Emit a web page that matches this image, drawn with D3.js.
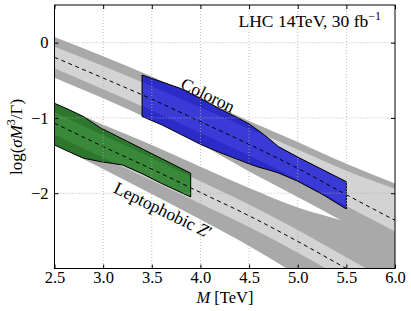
<!DOCTYPE html>
<html>
<head>
<meta charset="utf-8">
<script src="https://cdnjs.cloudflare.com/ajax/libs/d3/7.8.5/d3.min.js"></script>
<style>
  body { margin: 0; background: #fff; }
  svg text { font-family: "Liberation Serif", "DejaVu Serif", serif; fill: #000; }
</style>
</head>
<body>
<svg id="chart" width="411" height="311"></svg>
<script>
// mass grid for the grey uncertainty bands (TeV)
const massGrid = [2.5, 3.0, 3.5, 4.0, 4.5, 5.0, 5.5, 6.0];

// Coloron band
const coloronCentral  = [-0.195, -0.47, -0.75, -1.05, -1.35, -1.67, -2.02, -2.36];
const coloronDarkTop  = [0.075, -0.18, -0.45, -0.75, -1.04, -1.32, -1.61, -1.87];
const coloronLightTop = [-0.055, -0.31, -0.58, -0.86, -1.14, -1.42, -1.70, -1.94];
const coloronLightBot = [-0.34, -0.62, -0.90, -1.20, -1.50, -1.82, -2.17, -2.51];
const coloronDarkBot  = [-0.465, -0.74, -1.03, -1.35, -1.71, -2.05, -2.40, -2.76];

// Leptophobic Z' band
const leptoCentral  = [-1.07, -1.38, -1.68, -1.99, -2.30, -2.64, -3.00, -3.36];
const leptoDarkTop  = [-0.81, -1.09, -1.36, -1.65, -1.93, -2.19, -2.38, -2.61];
const leptoLightTop = [-0.92, -1.23, -1.53, -1.84, -2.15, -2.49, -2.85, -3.21];
const leptoLightBot = [-1.22, -1.53, -1.83, -2.14, -2.45, -2.79, -3.15, -3.51];
const leptoDarkBot  = [-1.35, -1.68, -2.01, -2.35, -2.70, -3.09, -3.50, -3.91];

// coloured reach regions
const coloronFitMass = [3.4, 3.6, 3.8, 4.0, 4.2, 4.4, 4.5, 4.6, 4.7, 4.8, 5.0, 5.26, 5.5];
const coloronFitTop  = [-0.43, -0.52, -0.61, -0.74, -0.88, -1.01, -1.08, -1.17, -1.27, -1.38, -1.52, -1.69, -1.847];
const coloronFitBot  = [-0.98, -1.09, -1.22, -1.35, -1.46, -1.56, -1.61, -1.655, -1.69, -1.73, -1.84, -2.02, -2.21];

const leptoFitMass = [2.5, 2.65, 2.8, 2.97, 3.2, 3.4, 3.6, 3.9];
const leptoFitTop  = [-0.806, -0.89, -0.984, -1.13, -1.28, -1.41, -1.54, -1.735];
const leptoFitBot  = [-1.36, -1.45, -1.535, -1.58, -1.625, -1.74, -1.87, -2.05];

// ticks
const xTicks = [2.5, 3.0, 3.5, 4.0, 4.5, 5.0, 5.5, 6.0];
const yTicks = [-2, -1, 0];

const svg = d3.select('#chart');
const plotLeft = 54.5, plotRight = 395, plotTop = 5, plotBottom = 268.5;

const xScale = d3.scaleLinear().domain([2.5, 6.0]).range([plotLeft, plotRight]);
const yScale = d3.scaleLinear().domain([-3, 0.5]).range([plotBottom, plotTop]);

svg.append('clipPath').attr('id', 'plotClip')
    .append('rect')
    .attr('x', plotLeft).attr('y', plotTop)
    .attr('width', plotRight - plotLeft).attr('height', plotBottom - plotTop);

const plot = svg.append('g').attr('clip-path', 'url(#plotClip)');

// helpers
const band = (lo, hi) => d3.area()
    .x((d, i) => xScale(massGrid[i]))
    .y0((d, i) => yScale(lo[i]))
    .y1((d, i) => yScale(hi[i]))
    .curve(d3.curveMonotoneX)(massGrid);

const region = (mass, hi, lo) => d3.area()
    .x((d, i) => xScale(mass[i]))
    .y0((d, i) => yScale(lo[i]))
    .y1((d, i) => yScale(hi[i]))(mass);

// grey bands
plot.append('path').attr('d', band(coloronDarkBot, coloronDarkTop)).attr('fill', '#a9a9a9');
plot.append('path').attr('d', band(leptoDarkBot, leptoDarkTop)).attr('fill', '#a9a9a9');
plot.append('path').attr('d', band(coloronLightBot, coloronLightTop)).attr('fill', '#d3d3d3');
plot.append('path').attr('d', band(leptoLightBot, leptoLightTop)).attr('fill', '#d3d3d3');

// coloured regions: darker outer, lighter where the light band runs
const regions = [
    { id: 'colClip', mass: coloronFitMass, hi: coloronFitTop, lo: coloronFitBot,
      outer: '#2b2bc8', inner: '#3a3ad6', lightLo: coloronLightBot, lightHi: coloronLightTop },
    { id: 'lepClip', mass: leptoFitMass, hi: leptoFitTop, lo: leptoFitBot,
      outer: '#2c772c', inner: '#3a883a', lightLo: leptoLightBot, lightHi: leptoLightTop }
];

regions.forEach(r => {
    const d = region(r.mass, r.hi, r.lo);
    svg.append('clipPath').attr('id', r.id).append('path').attr('d', d);
    plot.append('path').attr('d', d).attr('fill', r.outer);
    plot.append('path')
        .attr('d', band(r.lightLo, r.lightHi))
        .attr('fill', r.inner)
        .attr('clip-path', `url(#${r.id})`);
    plot.append('path').attr('d', d)
        .attr('fill', 'none').attr('stroke', '#000').attr('stroke-width', 1);
});

// central dashed lines
const centralLine = d3.line()
    .x((d, i) => xScale(massGrid[i]))
    .y(d => yScale(d))
    .curve(d3.curveMonotoneX);

[coloronCentral, leptoCentral].forEach(c => {
    plot.append('path').attr('d', centralLine(c))
        .attr('fill', 'none').attr('stroke', '#000')
        .attr('stroke-width', 1).attr('stroke-dasharray', '4,3.5');
});

// grid (classic style, on top)
const grid = svg.append('g');
grid.selectAll('.gx').data(xTicks.slice(1, -1)).enter().append('line')
    .attr('x1', d => xScale(d)).attr('x2', d => xScale(d))
    .attr('y1', plotTop).attr('y2', plotBottom);
grid.selectAll('.gy').data(yTicks).enter().append('line')
    .attr('x1', plotLeft).attr('x2', plotRight)
    .attr('y1', d => yScale(d)).attr('y2', d => yScale(d));
grid.selectAll('line')
    .attr('stroke', '#aaa').attr('stroke-width', 0.8).attr('stroke-dasharray', '1,2');

// axes with inward ticks on every side
const fmtY = d => d < 0 ? '\u2212' + Math.abs(d) : String(d);

const xAxis = svg.append('g').attr('transform', `translate(0,${plotBottom})`)
    .call(d3.axisBottom(xScale).tickValues(xTicks).tickFormat(d3.format('.1f'))
        .tickSizeInner(-4).tickSizeOuter(0).tickPadding(3));
const yAxis = svg.append('g').attr('transform', `translate(${plotLeft},0)`)
    .call(d3.axisLeft(yScale).tickValues(yTicks).tickFormat(fmtY)
        .tickSizeInner(-4).tickSizeOuter(0).tickPadding(6));
const tAxis = svg.append('g').attr('transform', `translate(0,${plotTop})`)
    .call(d3.axisTop(xScale).tickValues(xTicks).tickFormat('')
        .tickSizeInner(-4).tickSizeOuter(0));
const rAxis = svg.append('g').attr('transform', `translate(${plotRight},0)`)
    .call(d3.axisRight(yScale).tickValues(yTicks).tickFormat('')
        .tickSizeInner(-4).tickSizeOuter(0));

[xAxis, yAxis, tAxis, rAxis].forEach(a => {
    a.select('.domain').remove();
    a.selectAll('text').attr('font-size', 16.5)
        .attr('font-family', '"Liberation Serif", serif');
});

// frame
svg.append('rect')
    .attr('x', plotLeft).attr('y', plotTop)
    .attr('width', plotRight - plotLeft).attr('height', plotBottom - plotTop)
    .attr('fill', 'none').attr('stroke', '#000').attr('stroke-width', 1);

// annotation
const note = svg.append('text').attr('x', 381).attr('y', 27)
    .attr('text-anchor', 'end').attr('font-size', 17.5);
note.append('tspan').text('LHC 14TeV, 30 fb');
note.append('tspan').attr('dy', -7).attr('font-size', 12).text('\u22121');

svg.append('text')
    .attr('transform', 'translate(208,95) rotate(26)')
    .attr('text-anchor', 'middle').attr('dominant-baseline', 'central')
    .attr('font-size', 17.5).text('Coloron');

const lep = svg.append('text')
    .attr('transform', 'translate(163,210) rotate(26)')
    .attr('text-anchor', 'middle').attr('dominant-baseline', 'central')
    .attr('font-size', 17.5);
lep.append('tspan').text('Leptophobic ');
lep.append('tspan').attr('font-style', 'italic').text('Z');
lep.append('tspan').text('\u2032');

// axis titles
const xt = svg.append('text').attr('x', 225).attr('y', 303)
    .attr('text-anchor', 'middle').attr('font-size', 16.5);
xt.append('tspan').attr('font-style', 'italic').text('M');
xt.append('tspan').text(' [TeV]');

const yt = svg.append('text')
    .attr('transform', 'translate(22,137) rotate(-90)')
    .attr('text-anchor', 'middle').attr('font-size', 17);
yt.append('tspan').text('log(');
yt.append('tspan').attr('font-style', 'italic').text('\u03c3M');
yt.append('tspan').attr('dy', -7).attr('font-size', 12).text('3');
yt.append('tspan').attr('dy', 7).text('/\u0393)');
</script>
</body>
</html>
